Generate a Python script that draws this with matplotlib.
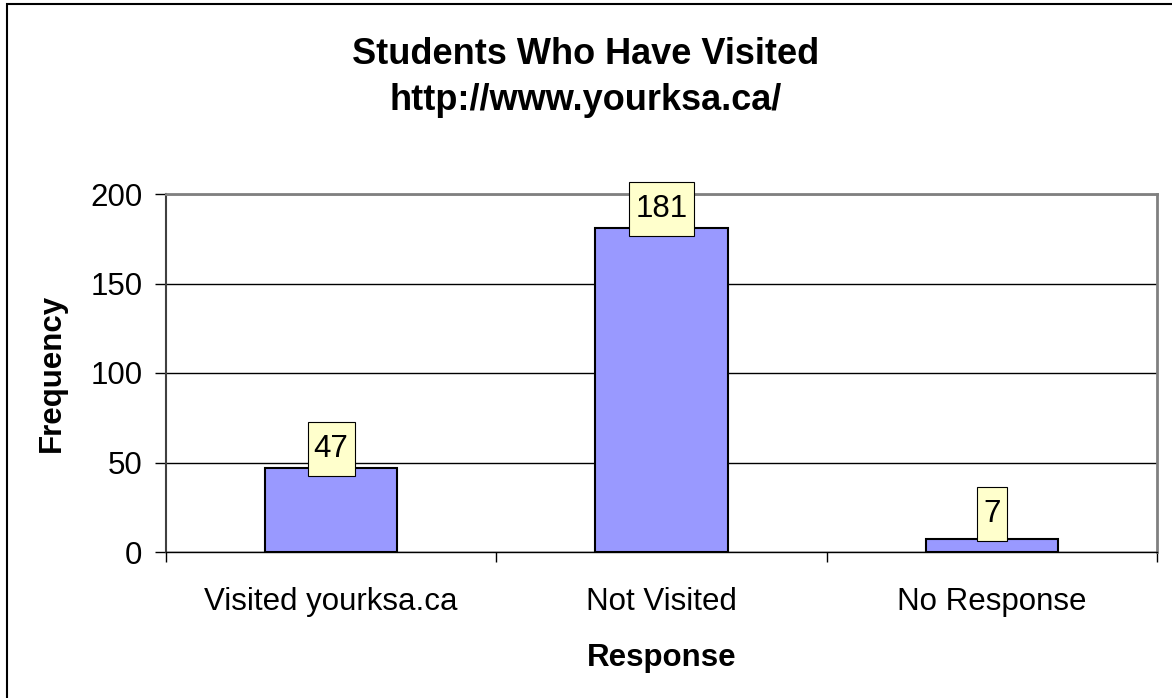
import numpy as np
import matplotlib.pyplot as plt
from matplotlib.patches import Rectangle
from matplotlib.path import Path

plt.rcParams['font.family'] = ['Liberation Sans', 'DejaVu Sans']

# Data
categories = ["Visited yourksa.ca", "Not Visited", "No Response"]
counts = [47, 181, 7]
y_ticks = [0, 50, 100, 150, 200]

W, H = 1172, 698
fig = plt.figure(figsize=(W / 100, H / 100), dpi=100)

# outer frame of the chart
fig.patches.append(Rectangle((7 / W, -0.01), 1.0, 1 - 4 / H + 0.01,
                             transform=fig.transFigure, fill=False,
                             edgecolor='black', linewidth=1.5))

left, right, top, bottom = 166 / W, 1157 / W, 194 / H, 552 / H
ax = fig.add_axes([left, 1 - bottom, right - left, bottom - top])

FS = 22.5

x = np.arange(len(categories))
bars = ax.bar(x, counts, width=0.4, color='#9999FF', edgecolor='black',
              linewidth=1.5, zorder=3)

ax.set_xlim(-0.5, len(categories) - 0.5)
ax.set_ylim(0, 200)
ax.set_yticks(y_ticks)
ax.set_yticklabels([str(v) for v in y_ticks], fontsize=FS)
ax.yaxis.grid(True, color='black', linewidth=1)
ax.set_axisbelow(True)

# categories centered, ticks on category boundaries
ax.set_xticks(x)
ax.set_xticklabels(categories, fontsize=FS)
ax.tick_params(axis='x', length=0, pad=25)
ax.set_xticks(np.arange(-0.5, len(categories)), minor=True)
ax.tick_params(axis='x', which='minor', length=7, width=1, direction='out')
ax.tick_params(axis='y', length=8, width=1, direction='out', pad=9)

for side in ('top', 'right'):
    ax.spines[side].set_color('#808080')
    ax.spines[side].set_linewidth(2)
ax.spines['left'].set_color('#404040')
ax.spines['left'].set_linewidth(1.5)
ax.spines['bottom'].set_color('black')
ax.spines['bottom'].set_linewidth(1)

ax.set_xlabel("Response", fontsize=FS, fontweight='bold', labelpad=19)
ax.set_ylabel("Frequency", fontsize=FS, fontweight='bold', labelpad=17)

fig.text(0.5, 1 - 55 / H, "Students Who Have Visited", ha='center', va='center',
         fontsize=26, fontweight='bold')
fig.text(0.5, 1 - 101 / H, "http://www.yourksa.ca/", ha='center', va='center',
         fontsize=26, fontweight='bold')


def label_box(x0, y0, width, height, mutation_size):
    # taller than wide padding, like the data-label boxes
    ph, pv = 6, 12
    x0, y0 = x0 - ph, y0 - pv
    x1, y1 = x0 + width + 2 * ph, y0 + height + 2 * pv
    return Path([(x0, y0), (x1, y0), (x1, y1), (x0, y1), (x0, y0)], closed=True)


px_per_unit = (552 - 194) / 200
for xi, v in zip(x, counts):
    off_px = max(19, 38 - v * px_per_unit)
    ax.annotate(str(v), (xi, v), xytext=(0, off_px * 0.72), textcoords='offset points',
                ha='center', va='center', fontsize=FS, zorder=5,
                bbox=dict(boxstyle=label_box, facecolor='#FFFFCC',
                          edgecolor='black', linewidth=0.8))

fig.savefig('out.png', dpi=100)
